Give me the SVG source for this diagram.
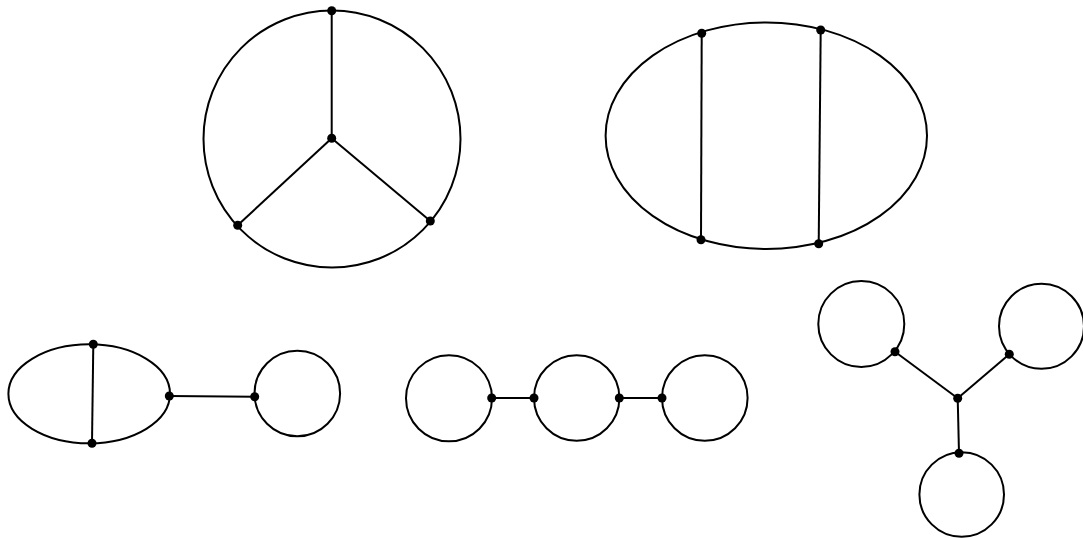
<svg xmlns="http://www.w3.org/2000/svg" width="1083" height="538" viewBox="0 0 1083 538">
<style>
.n{fill:none;stroke:#000;stroke-width:2}
.e{stroke:#000;stroke-width:2;fill:none}
.v{fill:#000}
</style>
<rect width="1083" height="538" fill="#fff"/>
<g id="shapes">
<circle id="g1-circle" class="n" cx="332" cy="139" r="128.5"/>
<ellipse id="g2-ellipse" class="n" cx="766.3" cy="135.7" rx="160.7" ry="113.3"/>
<ellipse id="g3-ellipse" class="n" cx="89.2" cy="393.8" rx="80.8" ry="49.5"/>
<circle id="g3-circle" class="n" cx="297.3" cy="393.5" r="42.8"/>
<circle id="g4-c1" class="n" cx="449" cy="398.3" r="43"/>
<circle id="g4-c2" class="n" cx="576.7" cy="398" r="42.7"/>
<circle id="g4-c3" class="n" cx="704.8" cy="398" r="42.8"/>
<circle id="g5-cA" class="n" cx="861.3" cy="324" r="43"/>
<circle id="g5-cB" class="n" cx="1041.5" cy="326.3" r="42.5"/>
<circle id="g5-cC" class="n" cx="961.7" cy="494.5" r="42.3"/>
</g>
<g id="connectors">
<line class="e" x1="331.7" y1="10.7" x2="331.7" y2="138.3"/>
<line class="e" x1="331.7" y1="138.3" x2="237.7" y2="225.3"/>
<line class="e" x1="331.7" y1="138.3" x2="430.3" y2="221"/>
<line class="e" x1="701.7" y1="33.3" x2="701" y2="239.7"/>
<line class="e" x1="820.7" y1="30" x2="818.7" y2="243.7"/>
<line class="e" x1="93.3" y1="344.3" x2="92" y2="443.3"/>
<line class="e" x1="169.3" y1="396" x2="254.7" y2="396.7"/>
<line class="e" x1="491.7" y1="398" x2="534" y2="398"/>
<line class="e" x1="619.3" y1="398" x2="662" y2="398"/>
<line class="e" x1="895" y1="351.7" x2="957.7" y2="398.3"/>
<line class="e" x1="1009.3" y1="354.3" x2="957.7" y2="398.3"/>
<line class="e" x1="957.7" y1="398.3" x2="959" y2="453.3"/>
</g>
<g id="vertices" class="v">
<circle cx="331.7" cy="10.7" r="4.5"/>
<circle cx="331.7" cy="138.3" r="4.5"/>
<circle cx="237.7" cy="225.3" r="4.5"/>
<circle cx="430.3" cy="221" r="4.5"/>
<circle cx="701.7" cy="33.3" r="4.5"/>
<circle cx="820.7" cy="30" r="4.5"/>
<circle cx="701" cy="239.7" r="4.5"/>
<circle cx="818.7" cy="243.7" r="4.5"/>
<circle cx="93.3" cy="344.3" r="4.5"/>
<circle cx="92" cy="443.3" r="4.5"/>
<circle cx="169.3" cy="396" r="4.5"/>
<circle cx="254.7" cy="396.7" r="4.5"/>
<circle cx="491.7" cy="398" r="4.5"/>
<circle cx="534" cy="398" r="4.5"/>
<circle cx="619.3" cy="398" r="4.5"/>
<circle cx="662" cy="398" r="4.5"/>
<circle cx="895" cy="351.7" r="4.5"/>
<circle cx="1009.3" cy="354.3" r="4.5"/>
<circle cx="957.7" cy="398.3" r="4.5"/>
<circle cx="959" cy="453.3" r="4.5"/>
</g>
</svg>
